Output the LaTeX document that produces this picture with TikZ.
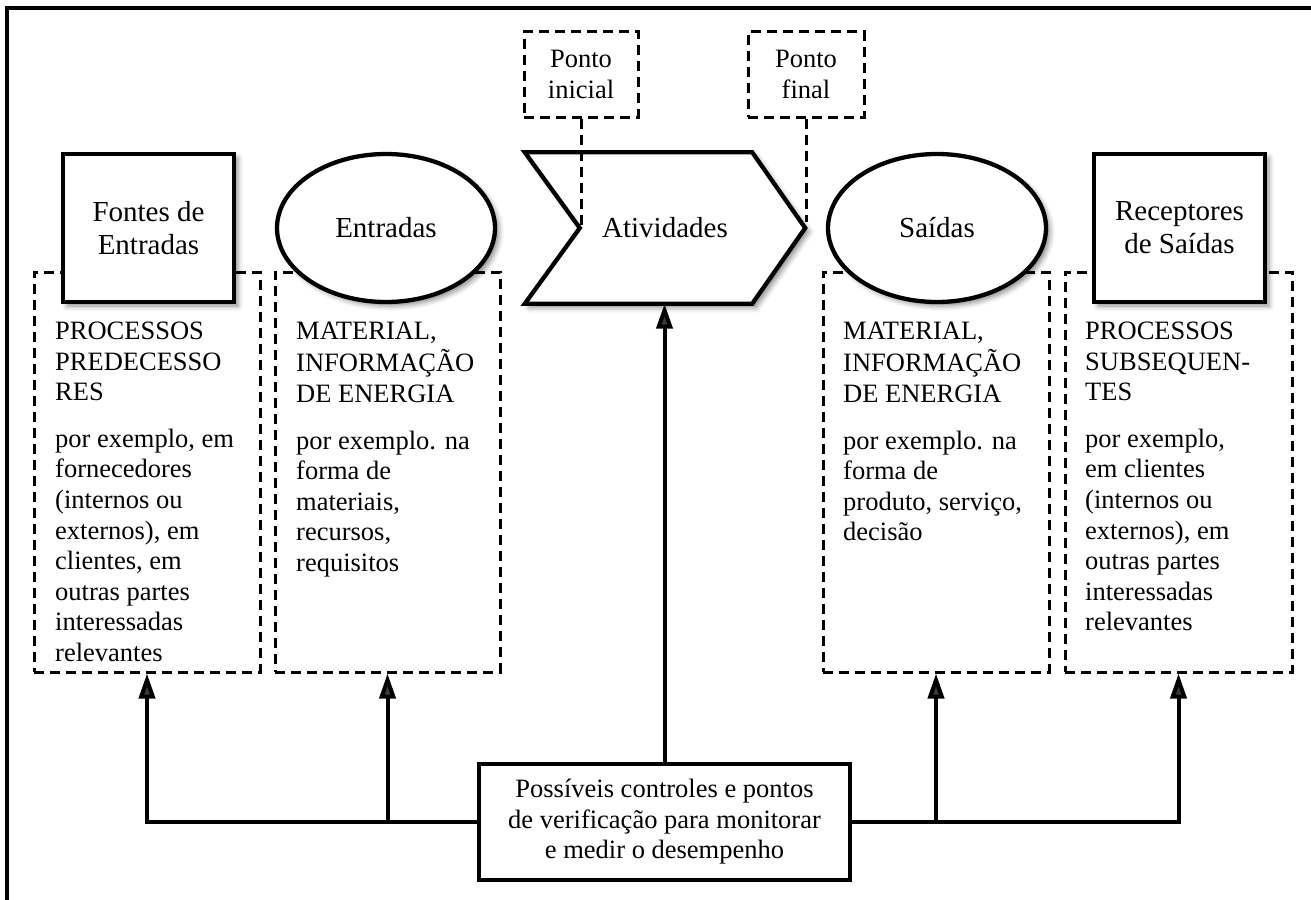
\documentclass[tikz,border=0pt]{standalone}
\usepackage{fontspec}
\setmainfont{Liberation Serif}
\usetikzlibrary{shapes.geometric,shadows.blur,arrows.meta,calc}

\tikzset{
  frameline/.style={line width=4pt},
  solidshape/.style={draw, line width=4.3pt, fill=white,
    blur shadow={shadow xshift=4pt, shadow yshift=-4pt, shadow blur radius=5pt, shadow opacity=45}},
  dashbox/.style={draw, line width=3pt, dash pattern=on 10pt off 6pt, inner sep=0pt, rectangle},
  bigtext/.style={font=\fontsize{29}{33}\selectfont, align=center},
  smalltext/.style={font=\fontsize{26.5}{30.6}\selectfont, align=left, inner sep=0pt, anchor=north west},
  arr/.style={line width=4pt, -{Triangle[length=25pt,width=16pt]}},
  guide/.style={line width=3pt, dash pattern=on 10pt off 6pt},
}

\begin{document}
\begin{tikzpicture}[x=1pt,y=-1pt]
\useasboundingbox (0,0) rectangle (1311,899);

% outer frame (runs off the page to the right and bottom)
\draw[frameline] (6.5,920) -- (6.5,8.5) -- (1330,8.5);

% dashed description boxes (behind the solid shapes)
\node[dashbox, minimum width=226pt, minimum height=400pt] (d1) at (147,472) {};
\node[dashbox, minimum width=225pt, minimum height=400pt] (d2) at (387.5,472) {};
\node[dashbox, minimum width=226pt, minimum height=400pt] (d3) at (936,472) {};
\node[dashbox, minimum width=227pt, minimum height=400pt] (d4) at (1178.5,472) {};

% descriptions
\node[smalltext] (t1) at (55,317.9) {\strut PROCESSOS\\PREDECESSO\\RES\\[16pt]por exemplo, em\\fornecedores\\(internos ou\\externos), em\\clientes, em\\outras partes\\interessadas\\relevantes};
\node[smalltext] (t2) at (296,317.9) {\strut MATERIAL,\\INFORMAÇÃO\\DE ENERGIA\\[16pt]por exemplo. na\\forma de\\materiais,\\recursos,\\requisitos};
\node[smalltext] (t3) at (843,317.9) {\strut MATERIAL,\\INFORMAÇÃO\\DE ENERGIA\\[16pt]por exemplo. na\\forma de\\produto, serviço,\\decisão};
\node[smalltext] (t4) at (1085,317.9) {\strut PROCESSOS\\SUBSEQUEN-\\TES\\[16pt]por exemplo,\\em clientes\\(internos ou\\externos), em\\outras partes\\interessadas\\relevantes};

% main process elements
\node[solidshape, rectangle, minimum width=171pt, minimum height=148pt, inner sep=0pt, bigtext] (src) at (148.5,228) {Fontes de\\Entradas};
\node[solidshape, ellipse, minimum width=218pt, minimum height=148pt, inner sep=0pt, bigtext] (inp) at (386,228) {Entradas};

\node[inner sep=0pt, minimum width=280pt, minimum height=151pt] (act) at (665,228) {};
\draw[solidshape, line join=miter]
  (act.north west) -- ($(act.north east)+(-53,0)$) -- (act.east)
  -- ($(act.south east)+(-53,0)$) -- (act.south west) -- ($(act.west)+(55,0)$) -- cycle;
\node[bigtext] (actlabel) at (act) {Atividades};

\node[solidshape, ellipse, minimum width=218pt, minimum height=148pt, inner sep=0pt, bigtext] (out) at (937,228) {Saídas};
\node[solidshape, rectangle, minimum width=171pt, minimum height=148pt, inner sep=0pt, bigtext] (rcv) at (1179.5,228) {Receptores\\de Saídas};

% start and end points
\node[dashbox, minimum width=114pt, minimum height=85pt, align=center, font=\fontsize{26.5}{31}\selectfont] (pi) at (581,74.5) {Ponto\\inicial};
\node[dashbox, minimum width=116pt, minimum height=85pt, align=center, font=\fontsize{26.5}{31}\selectfont] (pf) at (806,74.5) {Ponto\\final};
\draw[guide] (pi.south) -- (pi.south |- act.west);
\draw[guide] (pf.south) -- ($(pf.south |- act.east)+(0,-6)$);

% monitoring box
\node[draw, line width=4pt, minimum width=371pt, minimum height=116pt, align=center,
  font=\fontsize{26.5}{30.5}\selectfont] (ctl) at (664.5,822)
  {Possíveis controles e pontos\\de verificação para monitorar\\e medir o desempenho};

% feedback connectors
\draw[arr] (ctl.north) -- (ctl.north |- act.south);
\draw[arr] (ctl.west) -| (d1.south);
\draw[arr] (d2.south |- ctl.west) -- (d2.south);
\draw[arr] (ctl.east) -| (d4.south);
\draw[arr] (d3.south |- ctl.east) -- (d3.south);
\end{tikzpicture}
\end{document}
